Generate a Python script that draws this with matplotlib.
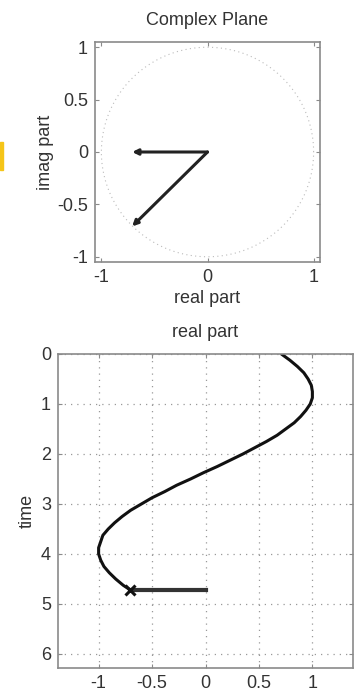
import matplotlib
matplotlib.use("Agg")
import matplotlib.pyplot as plt
from matplotlib.patches import Rectangle
import numpy as np

plt.rcParams['font.family'] = ['Liberation Sans', 'DejaVu Sans']

# --- data ---
phasor_re = [-0.71, -0.71]      # arrow tips (real part)
phasor_im = [-0.71, 0.0]        # arrow tips (imag part)
time_vals = [0.0, 0.125, 0.25, 0.375, 0.5, 0.625, 0.75, 0.875, 1.0, 1.125,
             1.25, 1.375, 1.5, 1.625, 1.75, 1.875, 2.0, 2.125, 2.25, 2.375,
             2.5, 2.625, 2.75, 2.875, 3.0, 3.125, 3.25, 3.375, 3.5, 3.625,
             3.75, 3.875, 4.0, 4.125, 4.25, 4.375, 4.5, 4.625, 4.71]
real_vals = [0.71, 0.79, 0.86, 0.92, 0.96, 0.99, 1.00, 1.00, 0.98, 0.94,
             0.89, 0.83, 0.75, 0.67, 0.57, 0.46, 0.35, 0.23, 0.11, -0.02,
             -0.14, -0.27, -0.38, -0.50, -0.60, -0.70, -0.78, -0.85, -0.91, -0.96,
             -0.98, -1.00, -1.00, -0.98, -0.95, -0.90, -0.84, -0.77, -0.71]
marker_time = 4.71
marker_real = -0.71
top_xticks = [-1, 0, 1]
top_yticks = [-1, -0.5, 0, 0.5, 1]
bot_xticks = [-1, -0.5, 0, 0.5, 1]
bot_yticks = [0, 1, 2, 3, 4, 5, 6]

W, H = 364, 695
fig = plt.figure(figsize=(W / 100, H / 100), dpi=100)
fs = 13
tick_col = '#333333'
spine_col = '#8a8a8a'

def style(ax):
    for s in ax.spines.values():
        s.set_color(spine_col)
        s.set_linewidth(1.2)
    ax.tick_params(direction='in', top=True, right=True, length=3,
                   color=spine_col, labelcolor=tick_col, labelsize=fs, pad=5)

# top axes: complex plane
ax1 = fig.add_axes([95 / W, 1 - 262 / H, 225 / W, 220 / H])
theta = np.linspace(0, 2 * np.pi, 400)
ax1.plot(np.cos(theta), np.sin(theta), linestyle=(0, (1, 3)), color='#bbbbbb', lw=0.8)
for xr, yi in zip(phasor_re, phasor_im):
    ax1.annotate('', xy=(xr, yi), xytext=(0, 0),
                 arrowprops=dict(arrowstyle='-|>', color='#222222', lw=2.2,
                                 mutation_scale=8, shrinkA=0, shrinkB=0))
ax1.set_xlim(-1.06, 1.06)
ax1.set_ylim(-1.05, 1.05)
ax1.set_xticks(top_xticks)
ax1.set_xticklabels(['-1', '0', '1'])
ax1.set_yticks(top_yticks)
ax1.set_yticklabels(['-1', '-0.5', '0', '0.5', '1'])
ax1.set_title('Complex Plane', fontsize=fs, color=tick_col, pad=12)
ax1.set_xlabel('real part', fontsize=fs, color=tick_col, labelpad=3)
ax1.set_ylabel('imag part', fontsize=fs, color=tick_col, labelpad=2)
style(ax1)

# bottom axes: real part vs time
ax2 = fig.add_axes([58 / W, 1 - 668 / H, 295 / W, 314 / H])
ax2.plot(real_vals, time_vals, color='#111111', lw=2.2,
         solid_joinstyle='round', solid_capstyle='round')
ax2.plot([marker_real, 0], [marker_time, marker_time], color='#333333', lw=3)
ax2.plot([marker_real], [marker_time], marker='x', color='#111111',
         markersize=7, mew=2.2)
ax2.set_xlim(-1.38, 1.38)
ax2.set_ylim(6.28, 0)
ax2.set_xticks(bot_xticks)
ax2.set_xticklabels(['-1', '-0.5', '0', '0.5', '1'])
ax2.set_yticks(bot_yticks)
ax2.grid(True, linestyle=(0, (1, 4)), color='#999999', lw=0.9)
ax2.set_title('real part', fontsize=fs, color=tick_col, pad=12)
ax2.set_ylabel('time', fontsize=fs, color=tick_col, labelpad=4)
style(ax2)

# small yellow mark at left edge
fig.patches.append(Rectangle((0, 1 - 170 / H), 3 / W, 28 / H,
                             transform=fig.transFigure, color='#f5c518',
                             zorder=5))

fig.savefig('out.png', dpi=100)
